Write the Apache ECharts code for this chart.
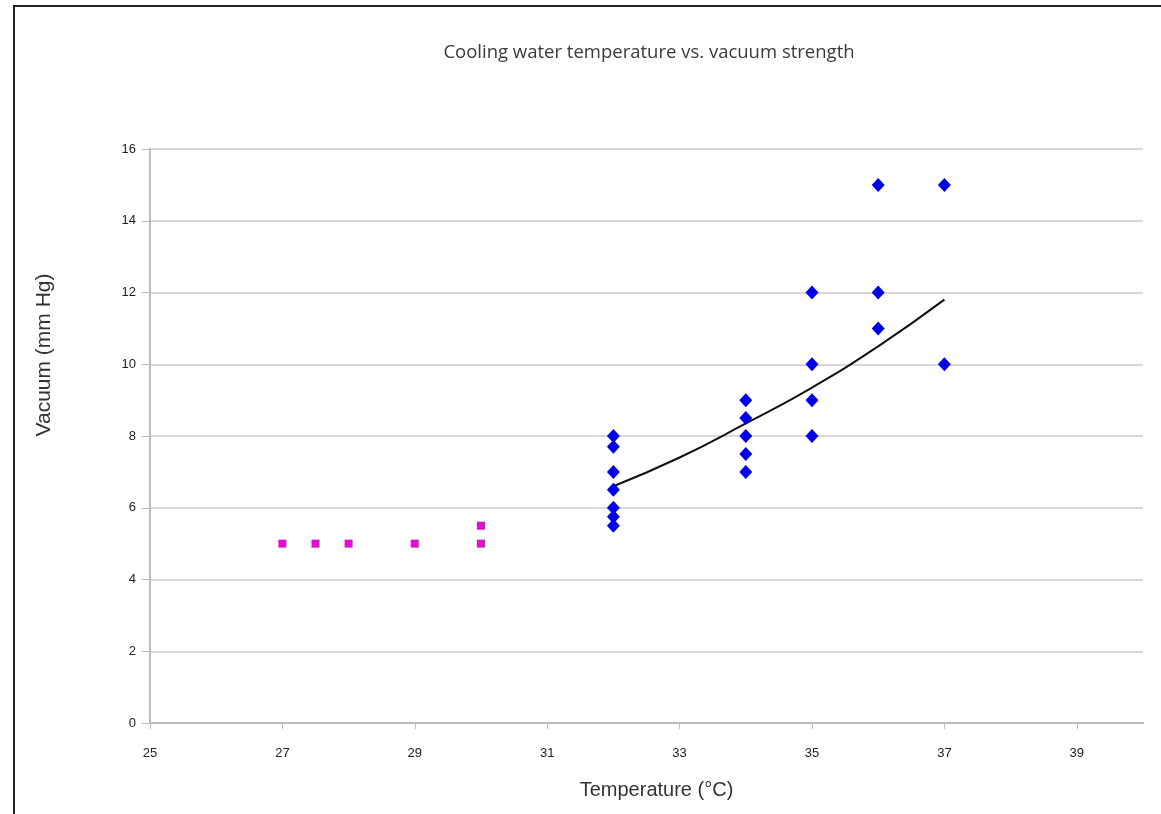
<!DOCTYPE html>
<html>
<head>
<meta charset="utf-8">
<script src="https://cdn.jsdelivr.net/npm/echarts@6/dist/echarts.min.js"></script>
<style>
  html, body { margin: 0; padding: 0; background: #fff; overflow: hidden; }
  #frame { position: absolute; left: 13px; top: 5px; width: 1200px; height: 900px;
           border-left: 2px solid #222; border-top: 2px solid #222; }
  #main { position: absolute; left: 0; top: 0; width: 1161px; height: 814px; }
</style>
</head>
<body>
<div id="frame"></div>
<div id="main"></div>
<script>
// values
var blueX = [32, 32, 32, 32, 32, 32, 32, 34, 34, 34, 34, 34, 35, 35, 35, 35, 36, 36, 36, 37, 37];
var blueY = [8, 7.7, 7, 6.5, 6, 5.75, 5.5, 9, 8.5, 8, 7.5, 7, 12, 10, 9, 8, 15, 12, 11, 15, 10];
var pinkX = [27, 27.5, 28, 29, 30, 30];
var pinkY = [5, 5, 5, 5, 5.5, 5];
// trend line
var trendX = [32, 33, 34, 35, 36, 37];
var trendY = [6.6, 7.4, 8.35, 9.35, 10.5, 11.8];

function pairs(xs, ys) {
  return xs.map(function (x, i) { return [x, ys[i]]; });
}

var myChart = echarts.init(document.getElementById('main'));

var option = {
  backgroundColor: 'transparent',
  animation: false,
  title: {
    text: 'Cooling water temperature vs. vacuum strength',
    left: 644,
    textAlign: 'center',
    top: 38,
    textStyle: { fontFamily: 'Open Sans', fontSize: 18.5, fontWeight: 'normal', color: '#3a3a3a' }
  },
  grid: { left: 150, right: 18, top: 149, bottom: 91 },
  xAxis: {
    type: 'value',
    min: 25,
    max: 40,
    interval: 2,
    name: 'Temperature (°C)',
    nameLocation: 'middle',
    nameGap: 57,
    nameTextStyle: { fontFamily: 'Liberation Sans', fontSize: 20, color: '#333', padding: [0, 0, 0, 20] },
    axisLine: { show: true, lineStyle: { color: '#bbb', width: 2 } },
    axisTick: { show: true, length: 6, lineStyle: { color: '#bbb' } },
    axisLabel: {
      showMaxLabel: false,
      margin: 24,
      fontFamily: 'Liberation Sans', fontSize: 13, color: '#222'
    },
    splitLine: { show: false }
  },
  yAxis: {
    type: 'value',
    min: 0,
    max: 16,
    interval: 2,
    axisLine: { show: true, lineStyle: { color: '#bbb', width: 2 } },
    axisTick: { show: true, length: 8, lineStyle: { color: '#bbb' } },
    axisLabel: { margin: 14, fontFamily: 'Liberation Sans', fontSize: 13, color: '#222' },
    splitLine: { show: true, lineStyle: { color: '#d9d9d9', width: 2 } }
  },
  graphic: [
    {
      type: 'text',
      x: 44,
      y: 355,
      rotation: Math.PI / 2,
      style: {
        text: 'Vacuum (mm Hg)',
        font: '21px "Liberation Sans"',
        fill: '#333',
        align: 'center',
        verticalAlign: 'middle'
      }
    }
  ],
  series: [
    {
      name: 'trend',
      type: 'line',
      data: pairs(trendX, trendY),
      smooth: true,
      showSymbol: false,
      lineStyle: { color: '#111', width: 2 },
      z: 3
    },
    {
      name: 'high',
      type: 'scatter',
      data: pairs(blueX, blueY),
      symbol: 'diamond',
      symbolSize: [13, 14],
      itemStyle: { color: '#0000e6', opacity: 1 },
      z: 4
    },
    {
      name: 'low',
      type: 'scatter',
      data: pairs(pinkX, pinkY),
      symbol: 'rect',
      symbolSize: 8,
      itemStyle: { color: '#dd11cc', opacity: 1 },
      z: 4
    }
  ]
};

myChart.setOption(option);
</script>
</body>
</html>
